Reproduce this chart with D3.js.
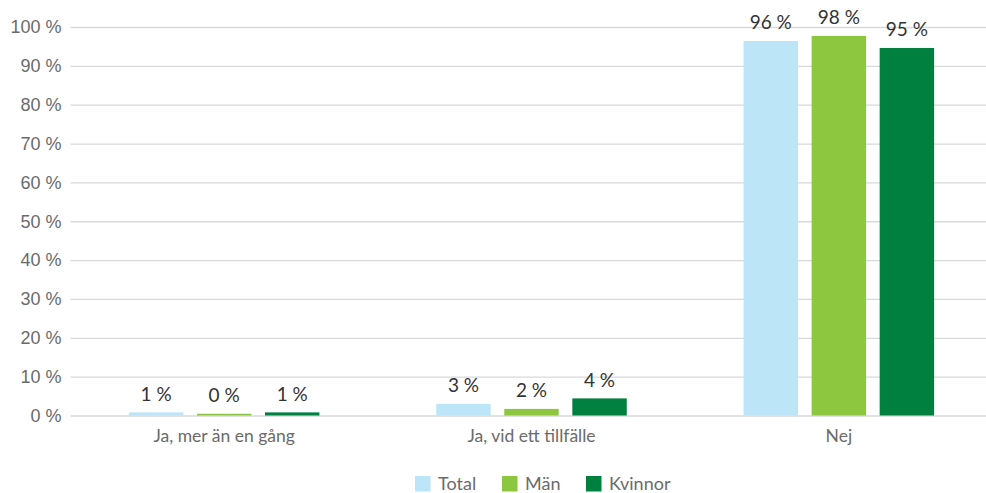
<!DOCTYPE html>
<html>
<head>
<meta charset="utf-8">
<script src="https://cdn.jsdelivr.net/npm/d3@7"></script>
<style>
  body { margin: 0; background: #fff; }
  svg { display: block; font-family: Lato, "Open Sans", sans-serif; }
</style>
</head>
<body>
<svg width="986" height="493"></svg>
<script>
// chart data
const categories = ["Ja, mer än en gång", "Ja, vid ett tillfälle", "Nej"]
const seriesNames = ["Total", "Män", "Kvinnor"]
const total = [0.8, 3.0, 96.4]
const man = [0.45, 1.7, 97.7]
const kvinnor = [0.8, 4.4, 94.6]
const yTicks = [0, 10, 20, 30, 40, 50, 60, 70, 80, 90, 100]

const colors = { "Total": "#bde5f8", "Män": "#8dc63f", "Kvinnor": "#00803f" }
const values = { "Total": total, "Män": man, "Kvinnor": kvinnor }

const svg = d3.select("svg")
const plotLeft = 70.5, plotRight = 992.5
const plotTop = 27, plotBottom = 415.5

const x0 = d3.scaleBand()
  .domain(categories)
  .range([plotLeft, plotRight])
  .paddingInner(0.38)
  .paddingOuter(0.19)

const x1 = d3.scaleBand()
  .domain(seriesNames)
  .range([0, x0.bandwidth()])
  .paddingInner(0.2)

const y = d3.scaleLinear().domain([0, 100]).range([plotBottom, plotTop])

// gridlines + y labels
const yAxis = svg.append("g")
  .attr("transform", "translate(" + plotLeft + ",0)")
  .call(d3.axisLeft(y).tickValues(yTicks).tickSize(-(plotRight - plotLeft)).tickPadding(9)
    .tickFormat((d) => d + " %"))
yAxis.select(".domain").remove()
yAxis.selectAll(".tick line").attr("stroke", "#d9d9d9").attr("stroke-width", 1.3)
yAxis.selectAll(".tick text")
  .attr("fill", "#6b6b6b")
  .style("font-size", "18px")

// category labels
svg.append("g")
  .selectAll("text")
  .data(categories)
  .enter()
  .append("text")
  .attr("x", (d) => x0(d) + x0.bandwidth() / 2)
  .attr("y", 442)
  .attr("text-anchor", "middle")
  .attr("fill", "#6b6b6b")
  .style("font-size", "17.5px")
  .text((d) => d)

// bars
const groups = svg.append("g")
  .selectAll("g")
  .data(categories)
  .enter()
  .append("g")
  .attr("transform", (d) => "translate(" + x0(d) + ",0)")

const barData = (c, i) => seriesNames.map((s) => ({ s: s, v: values[s][i] }))

groups.selectAll("rect")
  .data(barData)
  .enter()
  .append("rect")
  .attr("x", (d) => x1(d.s))
  .attr("y", (d) => y(d.v))
  .attr("width", x1.bandwidth())
  .attr("height", (d) => y(0) - y(d.v))
  .attr("fill", (d) => colors[d.s])

groups.selectAll("text")
  .data(barData)
  .enter()
  .append("text")
  .attr("x", (d) => x1(d.s) + x1.bandwidth() / 2)
  .attr("y", (d) => y(d.v) - 11.5)
  .attr("text-anchor", "middle")
  .attr("fill", "#333")
  .style("font-size", "19px")
  .text((d) => Math.round(d.v) + " %")

// legend
const legendX = [415, 502, 586]
const legend = svg.append("g")
  .selectAll("g")
  .data(seriesNames)
  .enter()
  .append("g")
  .attr("transform", (d, i) => "translate(" + legendX[i] + ",476)")
legend.append("rect")
  .attr("width", 15.5)
  .attr("height", 15.5)
  .attr("fill", (d) => colors[d])
legend.append("text")
  .attr("x", 23)
  .attr("y", 14)
  .attr("fill", "#6b6b6b")
  .style("font-size", "18px")
  .text((d) => d)
</script>
</body>
</html>
